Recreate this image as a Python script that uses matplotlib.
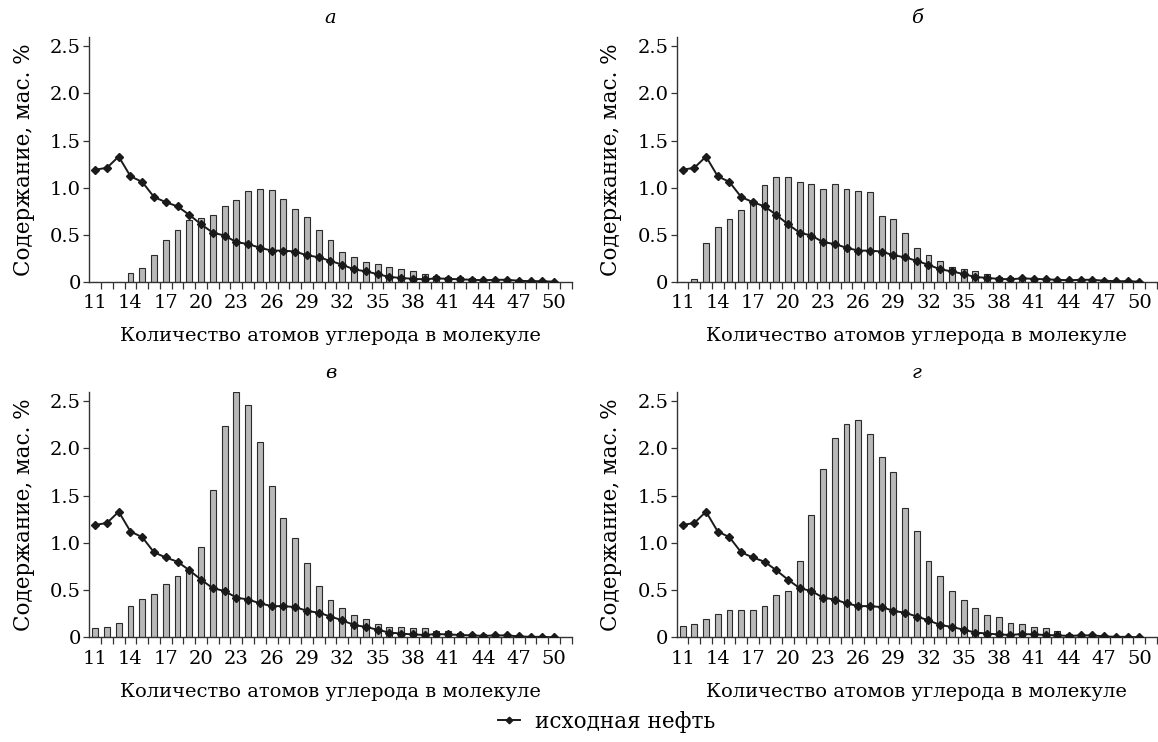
import numpy as np
import matplotlib
matplotlib.use('Agg')
import matplotlib.pyplot as plt
from matplotlib.ticker import FixedLocator, FixedFormatter

plt.rcParams['font.family'] = ['DejaVu Serif']

carbon = list(range(11, 51))

# исходная нефть (одинаковая на всех панелях)
crude = [1.19, 1.21, 1.33, 1.12, 1.06, 0.90, 0.845, 0.80, 0.71, 0.61,
         0.52, 0.49, 0.42, 0.40, 0.36, 0.33, 0.33, 0.32, 0.28, 0.26,
         0.22, 0.18, 0.13, 0.11, 0.08, 0.05, 0.04, 0.03, 0.025, 0.035,
         0.03, 0.025, 0.02, 0.015, 0.02, 0.02, 0.01, 0.005, 0.005, 0.0]

bars_a = [0, 0, 0, 0.09, 0.14, 0.28, 0.44, 0.55, 0.66, 0.68,
          0.71, 0.80, 0.87, 0.96, 0.99, 0.97, 0.88, 0.77, 0.69, 0.55,
          0.44, 0.32, 0.26, 0.21, 0.19, 0.16, 0.13, 0.11, 0.085, 0.06,
          0.05, 0.05, 0.04, 0.025, 0.02, 0.02, 0.01, 0, 0, 0]

bars_b = [0, 0.03, 0.415, 0.58, 0.67, 0.76, 0.86, 1.03, 1.11, 1.11,
          1.06, 1.04, 0.99, 1.04, 0.99, 0.965, 0.95, 0.70, 0.665, 0.52,
          0.36, 0.28, 0.215, 0.155, 0.135, 0.115, 0.08, 0.05, 0.045, 0.035,
          0.03, 0.03, 0.025, 0.025, 0.025, 0.025, 0.01, 0, 0, 0]

bars_v = [0.095, 0.11, 0.15, 0.33, 0.405, 0.455, 0.56, 0.65, 0.71, 0.96,
          1.56, 2.24, 2.60, 2.46, 2.07, 1.60, 1.26, 1.05, 0.79, 0.54,
          0.40, 0.31, 0.24, 0.19, 0.145, 0.11, 0.11, 0.095, 0.095, 0.065,
          0.065, 0.05, 0.04, 0.03, 0.02, 0.01, 0.005, 0, 0, 0]

bars_g = [0.12, 0.14, 0.19, 0.25, 0.29, 0.29, 0.29, 0.33, 0.45, 0.49,
          0.81, 1.29, 1.785, 2.105, 2.26, 2.30, 2.155, 1.91, 1.75, 1.37,
          1.13, 0.81, 0.65, 0.49, 0.40, 0.31, 0.24, 0.21, 0.15, 0.14,
          0.11, 0.095, 0.065, 0.04, 0.03, 0.02, 0.01, 0.01, 0.01, 0.01]

panels = [('а', bars_a), ('б', bars_b), ('в', bars_v), ('г', bars_g)]

fig = plt.figure(figsize=(11.58, 7.42), dpi=100)
positions = [[0.0771, 0.6204, 0.4166, 0.3297],
             [0.5844, 0.6204, 0.4146, 0.3297],
             [0.0771, 0.1411, 0.4166, 0.3310],
             [0.5844, 0.1411, 0.4146, 0.3310]]

fs = 14
for (name, bars), pos in zip(panels, positions):
    ax = fig.add_axes(pos)
    ax.bar(carbon, bars, width=0.5, color='#b8b8b8', edgecolor='#2a2a2a',
           linewidth=0.8, zorder=2)
    line, = ax.plot(carbon, crude, color='#1a1a1a', lw=1.4, marker='D',
                    markersize=4.2, zorder=3)
    ax.set_xlim(10.5, 51.5)
    ax.set_ylim(0, 2.6)
    ax.spines['top'].set_visible(False)
    ax.spines['right'].set_visible(False)
    for s in ['left', 'bottom']:
        ax.spines[s].set_color('#333333')
        ax.spines[s].set_linewidth(1.0)
    ax.xaxis.set_major_locator(FixedLocator(list(range(11, 51, 3))))
    ax.xaxis.set_major_formatter(FixedFormatter([str(v) for v in range(11, 51, 3)]))
    ax.xaxis.set_minor_locator(FixedLocator(list(np.arange(11.5, 52, 1.0))))
    ax.tick_params(axis='x', which='major', length=0, pad=9, labelsize=fs)
    ax.tick_params(axis='x', which='minor', length=5, width=0.9, color='#333333')
    ax.set_yticks([0, 0.5, 1.0, 1.5, 2.0, 2.5])
    ax.set_yticklabels(['0', '0.5', '1.0', '1.5', '2.0', '2.5'])
    ax.tick_params(axis='y', length=4, width=0.9, color='#333333', pad=2, labelsize=fs)
    ax.set_xlabel('Количество атомов углерода в молекуле', fontsize=fs, labelpad=11)
    ax.set_ylabel('Содержание, мас. %', fontsize=15.5, labelpad=11)
    ax.set_title(name, fontsize=fs, style='italic', pad=10)

fig.legend([line], ['исходная нефть'], loc='center', bbox_to_anchor=(0.524, 0.027),
           frameon=False, fontsize=15.5, handlelength=1.0, handletextpad=0.7,
           borderpad=0, markerscale=0.8)

fig.savefig('out.png', dpi=100)
